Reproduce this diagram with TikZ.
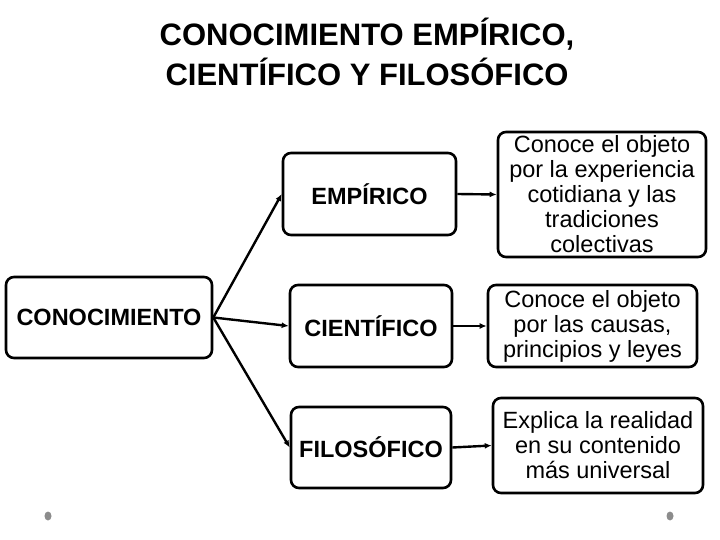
\documentclass[tikz,border=0pt]{standalone}
\usepackage{fontspec}
\setmainfont{Liberation Sans}
\usetikzlibrary{arrows.meta}

\begin{document}
\begin{tikzpicture}[x=1bp, y=-1bp,
    tagbox/.style={draw=black, line width=2.6bp, rounded corners=8bp, inner sep=0pt,
        align=center, font=\fontsize{23.5bp}{25bp}\selectfont\bfseries},
    infobox/.style={draw=black, line width=2.6bp, rounded corners=8bp, inner sep=0pt,
        align=center, font=\fontsize{23.5bp}{25bp}\selectfont},
    link/.style={line width=2.4bp, -{Latex[length=7bp,width=6bp]}}]

    % Define colours
    \definecolor{dotColour}{HTML}{8C8C8C}

    % Fix page size
    \useasboundingbox (0,0) rectangle (720,540);

    % Title
    \node[align=center, font=\fontsize{31bp}{40bp}\selectfont\bfseries] (title) at (367,52)
        {CONOCIMIENTO EMPÍRICO,\\CIENTÍFICO Y FILOSÓFICO};

    % Main box
    \node[tagbox, minimum width=206bp, minimum height=81bp] (conoc) at (109,317.5) {CONOCIMIENTO};

    % Kinds of knowledge
    \node[tagbox, minimum width=173bp, minimum height=82bp] (emp) at (369.5,194) {EMPÍRICO};
    \node[tagbox, minimum width=162bp, minimum height=82bp] (cien) at (371,326) {CIENTÍFICO};
    \node[tagbox, minimum width=160bp, minimum height=81bp] (filo) at (371,447.5) {FILOSÓFICO};

    % Descriptions
    \node[infobox, minimum width=208bp, minimum height=125bp] (descEmp) at (602,194.5)
        {Conoce el objeto\\por la experiencia\\cotidiana y las\\tradiciones\\colectivas};
    \node[infobox, minimum width=209bp, minimum height=82bp] (descCien) at (592.5,326)
        {Conoce el objeto\\por las causas,\\principios y leyes};
    \node[infobox, minimum width=210bp, minimum height=95bp] (descFilo) at (598,445.5)
        {Explica la realidad\\en su contenido\\más universal};

    % Draw arrows
    \draw[link] (conoc.east) -- (emp.west);
    \draw[link] (conoc.east) -- (cien.west);
    \draw[link] (conoc.east) -- (filo.west);
    \draw[link] (emp.east) -- (descEmp.west);
    \draw[link] (cien.east) -- (descCien.west);
    \draw[link] (filo.east) -- (descFilo.west);

    % Dots
    \fill[dotColour] (48,516) ellipse (3.5 and 4.5);
    \fill[dotColour] (670,516) ellipse (3.5 and 4.5);

\end{tikzpicture}
\end{document}
